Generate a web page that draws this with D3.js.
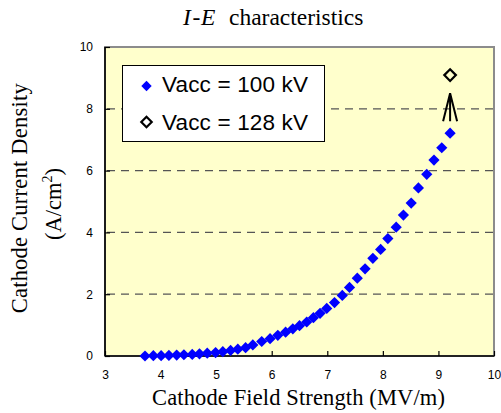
<!DOCTYPE html>
<html><head><meta charset="utf-8">
<script src="https://cdn.jsdelivr.net/npm/d3@7"></script>
<style>
html,body{margin:0;padding:0;background:#fff;}
svg{display:block;}
</style></head>
<body>
<svg id="chart" width="501" height="413"></svg>
<script>
// ---- data ----
const fieldE100 = [3.72,3.87,4.01,4.15,4.29,4.42,4.57,4.70,4.84,4.99,5.12,5.26,5.39,5.53,5.66,
  5.82,5.97,6.11,6.25,6.38,6.50,6.63,6.75,6.87,6.99,7.13,7.27,
  7.40,7.54,7.68,7.82,7.96,8.09,8.24,8.37,8.51,8.64,8.79,8.92,9.06,9.21];
const currentJ100 = [0.00,0.01,0.01,0.02,0.03,0.04,0.05,0.07,0.09,0.11,0.14,0.18,0.22,0.27,0.36,
  0.47,0.56,0.67,0.77,0.88,0.98,1.10,1.24,1.38,1.54,1.73,1.96,
  2.22,2.52,2.82,3.16,3.45,3.80,4.17,4.56,4.95,5.44,5.88,6.34,6.74,7.21];
const fieldE128 = [9.21];
const currentJ128 = [9.09];
const arrowE = [9.21];
const arrowJ = [7.6, 8.5];           // arrow base -> tip
const xTicks = [3,4,5,6,7,8,9,10];
const yTicks = [0,2,4,6,8,10];
const gridTicks = [2,4,6,8];
const legendLabels = ["Vacc = 100 kV", "Vacc = 128 kV"];
const xTitle = "Cathode Field Strength (MV/m)";
const yTitle1 = "Cathode Current Density";

// ---- layout ----
const svg = d3.select("#chart");
const L = 105, R = 494, T = 47, B = 356;
const x = d3.scaleLinear().domain([3,10]).range([L,R]);
const y = d3.scaleLinear().domain([0,10]).range([B,T]);
const sans = "'Liberation Sans', Arial, sans-serif";
const serif = "'Liberation Serif', 'Times New Roman', serif";
const diamond = r => `M0,${-r}L${r},0L0,${r}L${-r},0Z`;

// plot background
svg.append("rect").attr("x",L).attr("y",T).attr("width",R-L).attr("height",B-T)
  .attr("fill","#FFFFCC").attr("stroke","#8c8c8c").attr("stroke-width",2);

// grid
svg.append("g").selectAll("line").data(gridTicks).join("line")
  .attr("x1",L+2).attr("x2",R-1).attr("y1",d=>y(d)).attr("y2",d=>y(d))
  .attr("stroke","#555").attr("stroke-width",1.3).attr("stroke-dasharray","8,6");

// axes
const xAxis = svg.append("g").attr("transform",`translate(0,${B})`)
  .call(d3.axisBottom(x).tickValues(xTicks).tickSize(-5).tickPadding(14).tickFormat(d3.format("d")));
const yAxis = svg.append("g").attr("transform",`translate(${L},0)`)
  .call(d3.axisLeft(y).tickValues(yTicks).tickSize(-5).tickPadding(12).tickFormat(d3.format("d")));
[xAxis,yAxis].forEach(a=>{
  a.select(".domain").attr("stroke","#000").attr("stroke-width",1.6);
  a.selectAll(".tick line").attr("stroke","#000").attr("stroke-width",1.2);
  a.selectAll(".tick text").attr("font-family",sans).attr("font-size",12).attr("fill","#000");
});
yAxis.select(".domain").attr("d",`M0,${T}V${B}`);
xAxis.select(".domain").attr("d",`M${L},0H${R}`);

// data 100 kV
const pts = fieldE100.map((e,i)=>[e,currentJ100[i]]);
svg.append("g").selectAll("path").data(pts).join("path")
  .attr("d",diamond(5.6)).attr("transform",d=>`translate(${x(d[0])},${y(d[1])})`)
  .attr("fill","#0000FF");

// data 128 kV
const pts2 = fieldE128.map((e,i)=>[e,currentJ128[i]]);
svg.append("g").selectAll("path").data(pts2).join("path")
  .attr("d",diamond(5.8)).attr("transform",d=>`translate(${x(d[0])},${y(d[1])})`)
  .attr("fill","none").attr("stroke","#000").attr("stroke-width",2.2);

// arrow
const ax = x(arrowE[0]), ay0 = y(arrowJ[0]), ay1 = y(arrowJ[1]);
svg.append("path").attr("d",`M${ax},${ay0}L${ax},${ay1}M${ax-7},${ay0}L${ax},${ay1}L${ax+7},${ay0}`)
  .attr("fill","none").attr("stroke","#000").attr("stroke-width",2);

// legend
const lg = svg.append("g");
lg.append("rect").attr("x",122.5).attr("y",65.5).attr("width",202).attr("height",76)
  .attr("fill","#fff").attr("stroke","#000").attr("stroke-width",1);
lg.append("path").attr("d",diamond(5.2)).attr("transform","translate(146.5,86)").attr("fill","#0000FF");
lg.append("path").attr("d",diamond(5.2)).attr("transform","translate(146.5,122)")
  .attr("fill","none").attr("stroke","#000").attr("stroke-width",2.2);
lg.selectAll("text").data(legendLabels).join("text")
  .attr("x",162).attr("y",(d,i)=>92+i*37.5)
  .attr("font-family",sans).attr("font-size",22.5).attr("fill","#000")
  .attr("textLength",146).attr("lengthAdjust","spacing").text(d=>d);

// title
const tt = svg.append("text").attr("y",25).attr("font-family",serif).attr("font-size","23.5px").attr("fill","#000");
tt.append("tspan").attr("x",183).attr("font-style","italic").text("I");
tt.append("tspan").attr("x",192.5).text("-");
tt.append("tspan").attr("x",201).attr("font-style","italic").text("E");
tt.append("tspan").attr("x",229).text("characteristics");

// x title
svg.append("text").attr("x",152).attr("y",405)
  .attr("font-family",serif).attr("font-size",22.5).attr("fill","#000")
  .attr("textLength",293).attr("lengthAdjust","spacing").text(xTitle);

// y titles
svg.append("text").attr("transform","translate(26.5,313.3) rotate(-90)")
  .attr("font-family",serif).attr("font-size",22.5).attr("fill","#000")
  .attr("textLength",230).attr("lengthAdjust","spacing").text(yTitle1);
const yt2 = svg.append("text").attr("transform","translate(61,204) rotate(-90)").attr("text-anchor","middle")
  .attr("font-family",serif).attr("font-size",22.5).attr("fill","#000");
yt2.append("tspan").text("(A/cm");
yt2.append("tspan").attr("font-size",14).attr("dy",-9).text("2");
yt2.append("tspan").attr("dy",9).text(")");
</script>
</body></html>
